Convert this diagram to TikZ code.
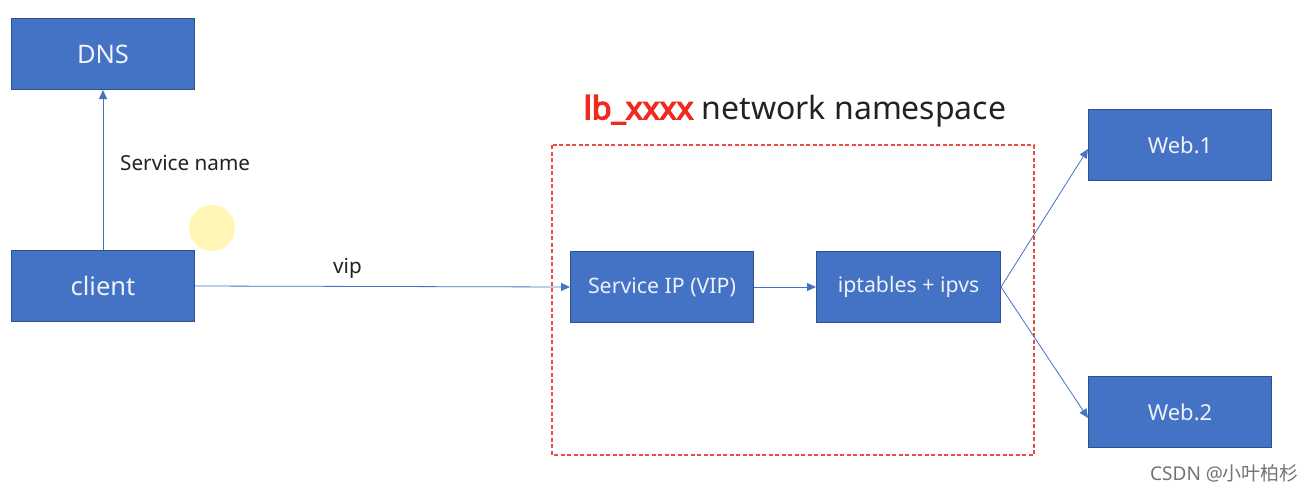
\documentclass[tikz,border=0pt]{standalone}
\usepackage{fontspec}
\setmainfont{Noto Sans}
\newfontfamily\boldsans{Noto Sans}[FakeBold=4]
\newfontfamily\cjkfont{Noto Sans CJK SC}
\usetikzlibrary{arrows.meta}
\definecolor{boxfill}{HTML}{4472C4}
\definecolor{boxline}{HTML}{2F528F}
\definecolor{boxtext}{HTML}{EEF2FA}
\definecolor{lbred}{HTML}{F02A1E}
\definecolor{nsred}{HTML}{F04A44}
\definecolor{txt}{HTML}{222222}
\definecolor{glow}{HTML}{FFF6B8}
\begin{document}
\begin{tikzpicture}[x=1pt,y=-1pt,
  blk/.style={draw=boxline,fill=boxfill,line width=1pt,text=boxtext,
    minimum width=183pt,minimum height=71pt,inner sep=0pt,anchor=north west,font=\fontsize{21.3}{25}\selectfont},
  conn/.style={draw=boxfill,line width=0.8pt,-{Triangle[length=9pt,width=8pt]}},
  lbl/.style={text=txt,inner sep=0pt,font=\fontsize{20.7}{24}\selectfont}]
\useasboundingbox (0,0) rectangle (1316,493);
\fill[white] (0,0) rectangle (1316,493);
% cursor highlight
\fill[glow] (212,228) circle (23);
% namespace frame
\draw[nsred,line width=1.6pt,dash pattern=on 4pt off 2.5pt] (552,145) rectangle (1034,455);
\node[inner sep=0pt,font=\fontsize{32}{38}\selectfont,text=txt] (title) at (795,111)
  {\textcolor{lbred}{\boldsans lb\_xxxx} network namespace};
% boxes
\node[blk,font=\fontsize{25.5}{30}\selectfont] (dns) at (11,18) {DNS};
\node[blk,font=\fontsize{25.5}{30}\selectfont] (client) at (11,250) {client};
\node[blk] (svc) at (570,251) {Service IP (VIP)};
\node[blk,minimum width=184pt] (ipt) at (816,251) {iptables + ipvs};
\node[blk,font=\fontsize{22}{26}\selectfont] (web1) at (1088,109) {Web.1};
\node[blk,font=\fontsize{22}{26}\selectfont] (web2) at (1088,376) {Web.2};
% connectors
\draw[conn] (client.north) -- (dns.south);
\draw[conn] (client.east) -- (svc.west);
\draw[conn] (svc.east) -- (ipt.west);
\draw[conn] (ipt.east) -- ([yshift=-4pt]web1.west);
\draw[conn] (ipt.east) -- ([yshift=-6pt]web2.west);
% labels
\node[lbl,anchor=west] (sname) at (120,163) {Service name};
\node[lbl,anchor=west] (vip) at (333,268) {vip};
\node[inner sep=0pt,anchor=west,text=black!55,font=\fontsize{19}{22}\selectfont] (wm) at (1150,473)
  {CSDN @{\cjkfont 小叶柏杉}};
\end{tikzpicture}
\end{document}
